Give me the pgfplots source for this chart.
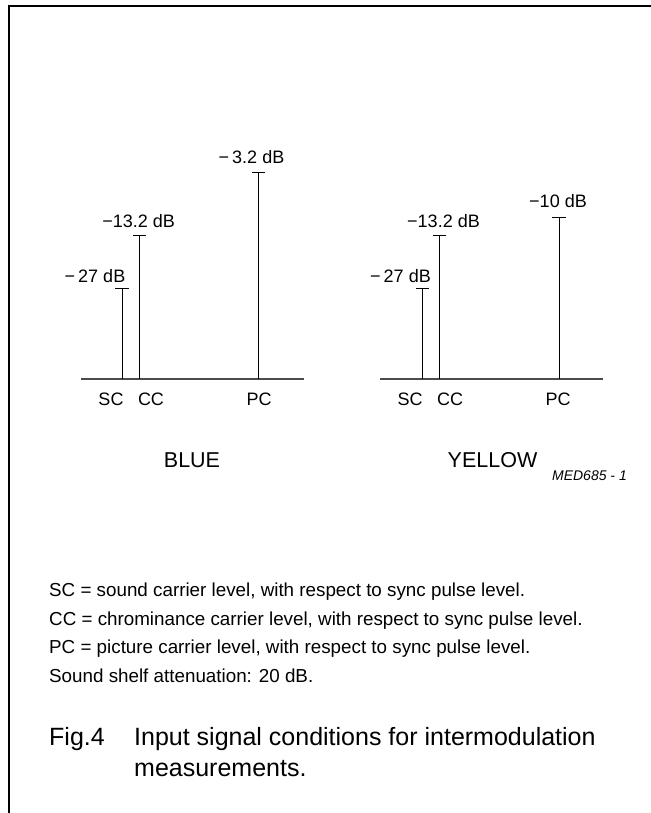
\documentclass[border=0pt]{standalone}
\usepackage{fontspec}
\setmainfont{Liberation Sans}
\usepackage{pgfplots}
\usepackage{pgfplotstable}
\pgfplotsset{compat=1.18}

% stem positions (bp from left end of base line) and heights (bp above base line)
\pgfplotstableread{
x     y
41.0  90
58.3  143
177.7 206
}\bluedata
\pgfplotstableread{
x     y
42.3  90
59.7  143
179.0 161
}\yellowdata

\pgfplotsset{
  carrier/.style={
    at={(#1)}, anchor=origin,
    width=223bp, height=220bp, scale only axis,
    xmin=0, xmax=223, ymin=0, ymax=220,
    axis x line*=bottom, axis y line=none,
    x axis line style={draw=black!70, line width=1.2bp},
    ytick=\empty,
    xtick={30,70,178},
    xticklabels={SC,CC,PC},
    major tick length=0pt,
    xticklabel style={anchor=base, yshift=-26.5bp,
      font=\fontsize{18bp}{21bp}\selectfont},
    clip=false,
  },
  stem/.style={ycomb, black, line width=1bp, mark=-, mark size=6.7bp,
    mark options={line width=1bp}},
}

\begin{document}
\begin{tikzpicture}[x=1bp,y=1bp]
\useasboundingbox (0,0) rectangle (651,813);
% frame
\draw[line width=1.6bp] (9,0) -- (9,807) -- (651,807);

% BLUE
\begin{axis}[carrier={81bp,434bp}]
\addplot[stem] table[x=x,y=y] {\bluedata};
\begin{scope}[every node/.style={anchor=base, font=\fontsize{18bp}{21bp}\selectfont, inner sep=0pt}]
\node at (axis cs:14,96.5) {−\,27 dB};
\node at (axis cs:57.7,151.5) {−13.2 dB};
\node at (axis cs:170.5,215.5) {−\,3.2 dB};
\end{scope}
\node[anchor=base, inner sep=0pt, font=\fontsize{21.5bp}{24bp}\selectfont]
  at (axis cs:111,-88.7) {BLUE};
\end{axis}

% YELLOW
\begin{axis}[carrier={380bp,434bp}]
\addplot[stem] table[x=x,y=y] {\yellowdata};
\begin{scope}[every node/.style={anchor=base, font=\fontsize{18bp}{21bp}\selectfont, inner sep=0pt}]
\node at (axis cs:20.5,96) {−\,27 dB};
\node at (axis cs:63.5,151) {−13.2 dB};
\node at (axis cs:178,171.5) {−10 dB};
\end{scope}
\node[anchor=base, inner sep=0pt, font=\fontsize{21.5bp}{24bp}\selectfont]
  at (axis cs:112.5,-88.7) {YELLOW};
\end{axis}

\node[anchor=base east, inner sep=0pt, font=\fontsize{14bp}{16bp}\selectfont\itshape]
  at (627,332) {MED685 - 1};

\begin{scope}[every node/.style={anchor=base west, inner sep=0pt, font=\fontsize{18.8bp}{22bp}\selectfont}]
\node at (49,216) {SC = sound carrier level, with respect to sync pulse level.};
\node at (49,187.5) {CC = chrominance carrier level, with respect to sync pulse level.};
\node at (49,159) {PC = picture carrier level, with respect to sync pulse level.};
\node at (49,130.5) {Sound shelf attenuation: 20 dB.};
\end{scope}

\begin{scope}[every node/.style={anchor=base west, inner sep=0pt, font=\fontsize{25bp}{30bp}\selectfont}]
\node at (49,67) {Fig.4};
\node at (134,67) {Input signal conditions for intermodulation};
\node at (134,36) {measurements.};
\end{scope}
\end{tikzpicture}
\end{document}
